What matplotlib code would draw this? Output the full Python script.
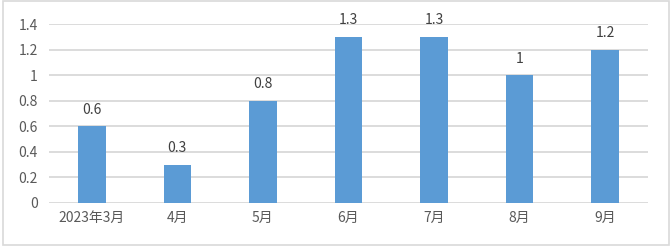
import matplotlib
matplotlib.use('Agg')
import matplotlib.pyplot as plt
from matplotlib.patches import Rectangle

# data
months = ['2023年3月', '4月', '5月', '6月', '7月', '8月', '9月']
values = [0.6, 0.3, 0.8, 1.3, 1.3, 1.0, 1.2]
value_labels = ['0.6', '0.3', '0.8', '1.3', '1.3', '1', '1.2']
yticks = [0, 0.2, 0.4, 0.6, 0.8, 1.0, 1.2, 1.4]
ytick_labels = ['0', '0.2', '0.4', '0.6', '0.8', '1', '1.2', '1.4']

plt.rcParams['font.family'] = ['Noto Sans CJK SC', 'DejaVu Sans']
txt_color = '#595959'

fig = plt.figure(figsize=(6.72, 2.46), dpi=100)
ax = fig.add_axes([0.073, 0.175, 0.891, 0.727])

x = list(range(len(months)))
ax.bar(x, values, width=0.32, color='#5B9BD5', zorder=3)
for xi, v, lab in zip(x, values, value_labels):
    ax.text(xi, v + 0.075, lab, ha='center', va='bottom', fontsize=10,
            color='#404040', fontweight='light')

ax.set_xlim(-0.5, len(months) - 0.5)
ax.set_ylim(0, 1.4)
ax.set_yticks(yticks)
ax.set_yticklabels(ytick_labels)
ax.set_xticks(x)
ax.set_xticklabels(months)
ax.tick_params(axis='both', length=0, labelsize=10, colors=txt_color)
ax.tick_params(axis='x', pad=6)
ax.tick_params(axis='y', pad=8)
for lab in ax.get_xticklabels() + ax.get_yticklabels():
    lab.set_fontweight('light')

ax.yaxis.grid(True, color='#D9D9D9', linewidth=1.3, zorder=0)
for s in ax.spines.values():
    s.set_visible(False)

# thin grey frame round the whole chart
fig.patches.append(Rectangle((0.004, 0.006), 0.992, 0.988, transform=fig.transFigure,
                             fill=False, edgecolor='#D9D9D9', linewidth=1.2))

fig.savefig('out.png', dpi=100)
